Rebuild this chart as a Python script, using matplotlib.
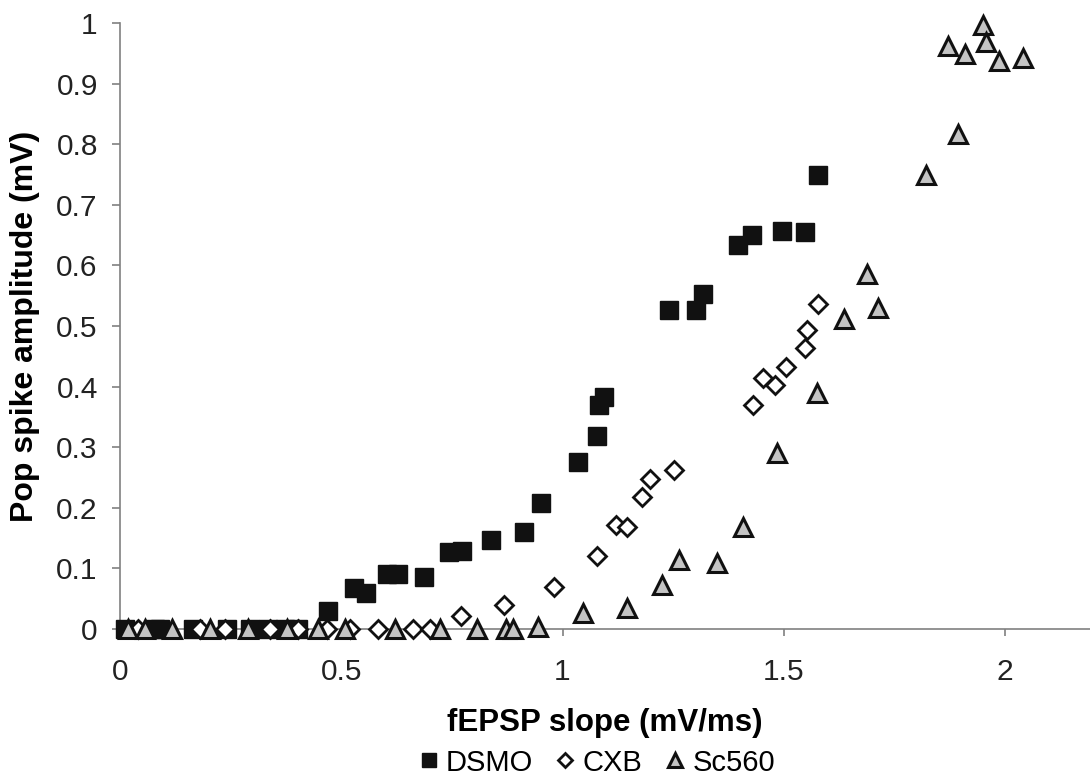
import matplotlib
matplotlib.use('Agg')
import matplotlib.pyplot as plt

plt.rcParams['font.family'] = ['Liberation Sans', 'DejaVu Sans']

# DSMO (black squares)
dsmo_x = [0.011, 0.079, 0.090, 0.165, 0.242, 0.294, 0.334, 0.373, 0.402,
          0.470, 0.529, 0.556, 0.603, 0.628, 0.687, 0.744, 0.773, 0.838, 0.913,
          0.951, 1.035, 1.078, 1.082, 1.094, 1.241, 1.302, 1.318, 1.397, 1.428,
          1.496, 1.548, 1.577]
dsmo_y = [0, 0, 0, 0, 0, 0, 0, 0, 0,
          0.030, 0.068, 0.060, 0.091, 0.091, 0.086, 0.127, 0.129, 0.147, 0.160,
          0.208, 0.276, 0.319, 0.369, 0.383, 0.527, 0.527, 0.552, 0.633, 0.650,
          0.656, 0.655, 0.749]

# CXB (open diamonds)
cxb_x = [0.041, 0.181, 0.237, 0.339, 0.402, 0.468, 0.520, 0.583, 0.662, 0.701,
         0.771, 0.868, 0.981, 1.078, 1.121, 1.146, 1.180, 1.198, 1.252, 1.431,
         1.453, 1.480, 1.505, 1.548, 1.553, 1.577]
cxb_y = [0, 0, 0, 0, 0, 0, 0, 0, 0, 0,
         0.021, 0.040, 0.069, 0.121, 0.172, 0.169, 0.218, 0.248, 0.263, 0.370,
         0.415, 0.403, 0.433, 0.464, 0.493, 0.536]

# Sc560 (grey triangles)
sc_x = [0.018, 0.056, 0.118, 0.203, 0.289, 0.377, 0.447, 0.508, 0.621, 0.723,
        0.807, 0.872, 0.888, 0.945, 1.046, 1.146, 1.225, 1.263, 1.349, 1.408,
        1.485, 1.575, 1.636, 1.688, 1.713, 1.821, 1.894, 1.871, 1.910, 1.950,
        1.957, 1.986, 2.041]
sc_y = [0, 0, 0, 0, 0, 0, 0, 0, 0, 0,
        0, 0, 0, 0.003, 0.026, 0.035, 0.073, 0.114, 0.109, 0.169,
        0.291, 0.390, 0.512, 0.585, 0.529, 0.749, 0.817, 0.962, 0.949, 0.997,
        0.969, 0.937, 0.942]

fig = plt.figure(figsize=(10.9, 7.84), dpi=100)
ax = fig.add_axes([120 / 1090, 155 / 784, 970 / 1090, 606 / 784])

ax.plot(dsmo_x, dsmo_y, linestyle='none', marker='s', markersize=12.5,
        markerfacecolor='#111111', markeredgecolor='#111111', markeredgewidth=1,
        clip_on=False, label='DSMO', zorder=3)
ax.plot(cxb_x, cxb_y, linestyle='none', marker='D', markersize=9.5,
        markerfacecolor='white', markeredgecolor='#111111', markeredgewidth=2,
        clip_on=False, label='CXB', zorder=4)
ax.plot(sc_x, sc_y, linestyle='none', marker='^', markersize=12.5,
        markerfacecolor='#c4c4c4', markeredgecolor='#111111', markeredgewidth=2.2,
        clip_on=False, label='Sc560', zorder=5)

ax.set_xlim(0, 2.192)
ax.set_ylim(0, 1)
ax.set_xticks([0, 0.5, 1, 1.5, 2])
ax.set_xticklabels(['0', '0.5', '1', '1.5', '2'])
ax.set_yticks([i / 10 for i in range(11)])
ax.set_yticklabels(['0', '0.1', '0.2', '0.3', '0.4', '0.5', '0.6', '0.7', '0.8', '0.9', '1'])

for s in ['top', 'right']:
    ax.spines[s].set_visible(False)
for s in ['left', 'bottom']:
    ax.spines[s].set_color('#808080')
    ax.spines[s].set_linewidth(1.2)

ax.tick_params(axis='y', direction='out', length=6, width=1.2, color='#808080',
               labelsize=21.5, labelcolor='#222222', pad=10)
ax.tick_params(axis='x', direction='out', length=5, width=1.2, color='#808080',
               labelsize=21.5, labelcolor='#222222', pad=16)

ax.set_xlabel('fEPSP slope (mV/ms)', fontsize=22.5, fontweight='bold', labelpad=16)
ax.set_ylabel('Pop spike amplitude (mV)', fontsize=23, fontweight='bold', labelpad=12)

fig.legend(loc='lower center', bbox_to_anchor=(0.548, -0.024), ncol=3, frameon=False,
           fontsize=21, markerscale=0.8, handlelength=0.6, handletextpad=0.3,
           columnspacing=0.8)

fig.savefig('out.png', dpi=100)
